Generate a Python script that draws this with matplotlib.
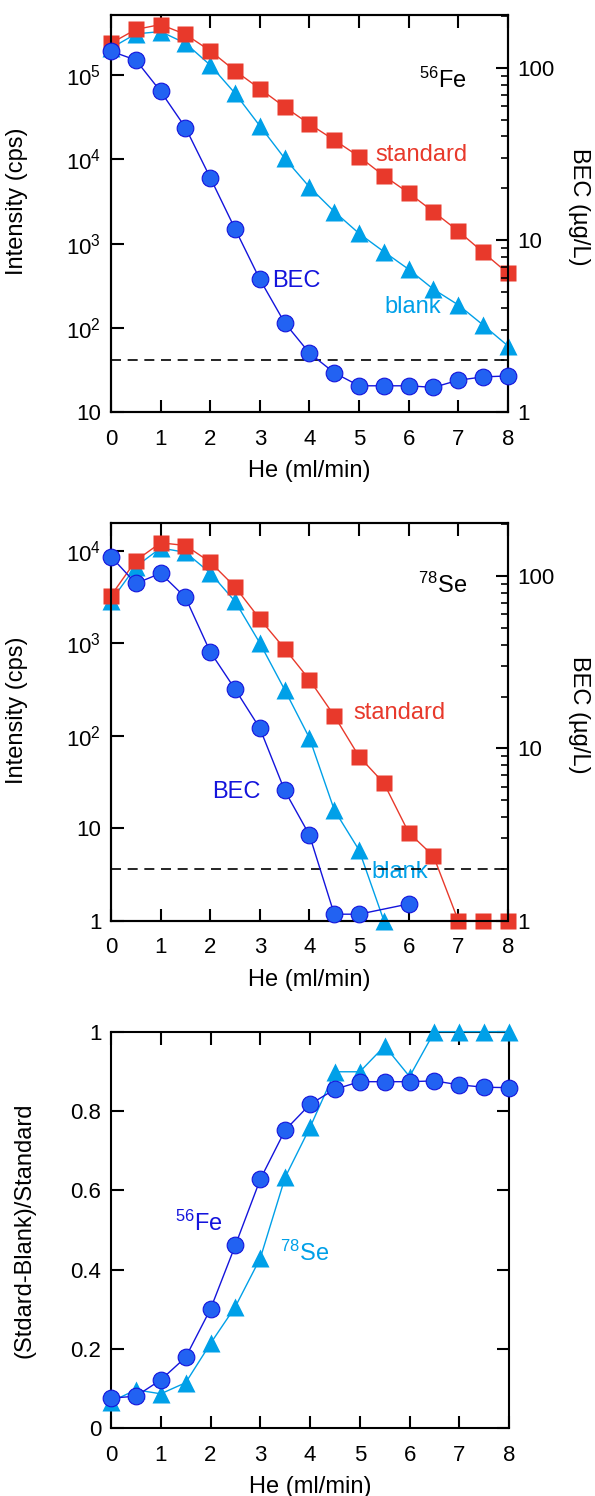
import numpy as np
import matplotlib
matplotlib.use("Agg")
import matplotlib.pyplot as plt
from matplotlib.ticker import FixedLocator, FuncFormatter, LogLocator, NullFormatter, NullLocator

plt.rcParams["font.family"] = ["Liberation Sans", "DejaVu Sans"]
plt.rcParams["mathtext.default"] = "regular"

# He flow (ml/min)
he = [0, 0.5, 1, 1.5, 2, 2.5, 3, 3.5, 4, 4.5, 5, 5.5, 6, 6.5, 7, 7.5, 8]

# 56Fe (cps, BEC in ug/L)
fe_std = [2.4e5, 3.5e5, 4.0e5, 3.06e5, 1.95e5, 1.13e5, 6.9e4, 4.2e4, 2.63e4,
          1.7e4, 1.08e4, 6.4e3, 4.0e3, 2.39e3, 1.41e3, 789, 444]
fe_blank = [2.1e5, 3.1e5, 3.3e5, 2.4e5, 1.32e5, 6.1e4, 2.5e4, 1.03e4, 4.7e3,
            2.4e3, 1.32e3, 802, 495, 287, 187, 108, 61]
fe_bec = [125, 111, 73, 45, 23, 11.6, 5.9, 3.3, 2.2, 1.69, 1.42, 1.42, 1.42,
          1.39, 1.53, 1.60, 1.62]

# 78Se
se_std = [3.3e3, 7.9e3, 1.23e4, 1.15e4, 7.6e3, 4.1e3, 1.84e3, 879, 405, 165,
          59.8, 30.8, 8.98, 5.0, 1, 1, 1]
se_blank_he = [0, 0.5, 1, 1.5, 2, 2.5, 3, 3.5, 4, 4.5, 5, 5.5]
se_blank = [2.9e3, 6.8e3, 1.08e4, 9.7e3, 5.8e3, 2.86e3, 1.01e3, 316, 94.7,
            15.8, 5.8, 1.0]
se_bec_he = [0, 0.5, 1, 1.5, 2, 2.5, 3, 3.5, 4, 4.5, 5, 6]
se_bec = [130, 90.8, 104, 75.3, 36.4, 22.1, 13.1, 5.7, 3.14, 1.09, 1.09, 1.25]

# (standard - blank) / standard
ratio_fe = [0.076, 0.081, 0.122, 0.179, 0.301, 0.462, 0.628, 0.752, 0.817,
            0.855, 0.874, 0.874, 0.874, 0.876, 0.866, 0.860, 0.859]
ratio_se = [0.067, 0.097, 0.087, 0.115, 0.214, 0.307, 0.429, 0.633, 0.759,
            0.899, 0.899, 0.964, 0.887, 1.0, 1.0, 1.0, 1.0]

bec_limit = 2  # ug/L dashed line

RED = "#e8392b"
CYAN = "#00a0e8"
BLUE = "#2262f2"
BLUE_DARK = "#1414dc"

TICK_FS = 16
LAB_FS = 17

fig = plt.figure(figsize=(5.95, 14.96), dpi=100)


def dec_fmt(v, pos):
    if v <= 1.5:
        return "1"
    if v < 15:
        return "10"
    return r"$10^{%d}$" % int(round(np.log10(v)))


def style_x(ax):
    ax.set_xlim(0, 8)
    ax.xaxis.set_major_locator(FixedLocator(range(9)))
    ax.tick_params(axis="x", which="major", direction="in", top=True,
                   length=9, width=1.5, labelsize=TICK_FS, pad=12)
    ax.set_xlabel("He (ml/min)", fontsize=LAB_FS)
    ax.xaxis.set_label_coords(0.5, -0.121)
    for s in ax.spines.values():
        s.set_linewidth(1.5)


def intensity_panel(rect, std, blank_x, blank, bec_x, bec, ymin, ymax, iso,
                    txt):
    ax = fig.add_axes(rect)
    ax.set_yscale("log")
    ax.plot(blank_x, blank, "-^", color=CYAN, lw=1, ms=13, mec="none",
            clip_on=False, zorder=3)
    ax.plot(he, std, "-s", color=RED, lw=1, ms=12, mec="none",
            clip_on=False, zorder=4)
    ax.set_ylim(ymin, ymax)
    decs = [10.0 ** k for k in range(int(np.log10(ymin)), 7) if 10.0 ** k <= ymax]
    ax.yaxis.set_major_locator(FixedLocator(decs))
    ax.yaxis.set_major_formatter(FuncFormatter(dec_fmt))
    ax.yaxis.set_minor_locator(NullLocator())
    ax.tick_params(axis="y", which="major", direction="in", right=False,
                   length=9, width=1.5, labelsize=TICK_FS, pad=7)
    ax.set_ylabel("Intensity (cps)", fontsize=LAB_FS)
    ax.yaxis.set_label_coords(-0.21, 0.53)
    style_x(ax)

    ax2 = ax.twinx()
    ax2.set_yscale("log")
    ax2.axhline(bec_limit, color="black", lw=1.2, ls=(0, (6, 4)), zorder=2)
    ax2.plot(bec_x, bec, "-o", color=BLUE_DARK, mfc=BLUE, mec=BLUE_DARK,
             mew=0.8, lw=1, ms=12, clip_on=False, zorder=5)
    ax2.set_ylim(1, 203)
    ax2.set_xlim(0, 8)
    ax2.yaxis.set_major_locator(FixedLocator([1, 10, 100]))
    ax2.yaxis.set_major_formatter(FuncFormatter(lambda v, p: "%d" % v))
    ax2.yaxis.set_minor_locator(LogLocator(base=10, subs=range(2, 10)))
    ax2.yaxis.set_minor_formatter(NullFormatter())
    ax2.tick_params(axis="y", which="major", direction="in", length=9,
                    width=1.5, labelsize=TICK_FS, pad=7)
    ax2.tick_params(axis="y", which="minor", direction="in", length=5,
                    width=1.2)
    ax2.set_ylabel("BEC (\u00b5g/L)", fontsize=LAB_FS, rotation=270,
                   va="bottom")
    ax2.yaxis.set_label_coords(1.152, 0.517)
    for s in ax2.spines.values():
        s.set_linewidth(1.5)

    ax.text(txt["iso"][0], txt["iso"][1], iso, transform=ax.transAxes,
            ha="right", va="center", fontsize=LAB_FS)
    ax.text(txt["std"][0], txt["std"][1], "standard", transform=ax.transAxes,
            ha="left", va="center", fontsize=LAB_FS, color=RED)
    ax.text(txt["bec"][0], txt["bec"][1], "BEC", transform=ax.transAxes,
            ha="left", va="center", fontsize=LAB_FS, color=BLUE_DARK)
    ax.text(txt["blank"][0], txt["blank"][1], "blank", transform=ax.transAxes,
            ha="left", va="center", fontsize=LAB_FS, color=CYAN, zorder=10)
    return ax


# 56Fe panel
intensity_panel([0.1866, 0.7246, 0.667, 0.2654], fe_std, he, fe_blank, he,
                fe_bec, 10, 5.2e5, r"$^{56}$Fe",
                {"iso": (0.897, 0.836), "std": (0.667, 0.647),
                 "bec": (0.406, 0.330), "blank": (0.688, 0.264)})

# 78Se panel
intensity_panel([0.1866, 0.3846, 0.667, 0.2656], se_std, se_blank_he,
                se_blank, se_bec_he, se_bec, 1, 2.0e4, r"$^{78}$Se",
                {"iso": (0.897, 0.845), "std": (0.610, 0.523),
                 "bec": (0.254, 0.324), "blank": (0.657, 0.123)})

# ratio panel
ax = fig.add_axes([0.1866, 0.04525, 0.669, 0.2651])
ax.plot(he, ratio_se, "-^", color=CYAN, lw=1, ms=13, mec="none",
        clip_on=False, zorder=3)
ax.plot(he, ratio_fe, "-o", color=BLUE_DARK, mfc=BLUE, mec=BLUE_DARK,
        mew=0.8, lw=1, ms=12, clip_on=False, zorder=4)
ax.set_ylim(0, 1)
ax.yaxis.set_major_locator(FixedLocator([0, 0.2, 0.4, 0.6, 0.8, 1.0]))
ax.yaxis.set_major_formatter(FuncFormatter(lambda v, p: "%g" % v))
ax.tick_params(axis="y", which="major", direction="in", right=True,
               length=9, width=1.5, labelsize=TICK_FS, pad=7)
ax.set_ylabel("(Stdard-Blank)/Standard", fontsize=LAB_FS)
ax.yaxis.set_label_coords(-0.19, 0.5)
style_x(ax)
ax.text(0.161, 0.518, r"$^{56}$Fe", transform=ax.transAxes, ha="left",
        va="center", fontsize=LAB_FS, color=BLUE_DARK)
ax.text(0.425, 0.442, r"$^{78}$Se", transform=ax.transAxes, ha="left",
        va="center", fontsize=LAB_FS, color=CYAN)

fig.savefig("out.png", dpi=100)
